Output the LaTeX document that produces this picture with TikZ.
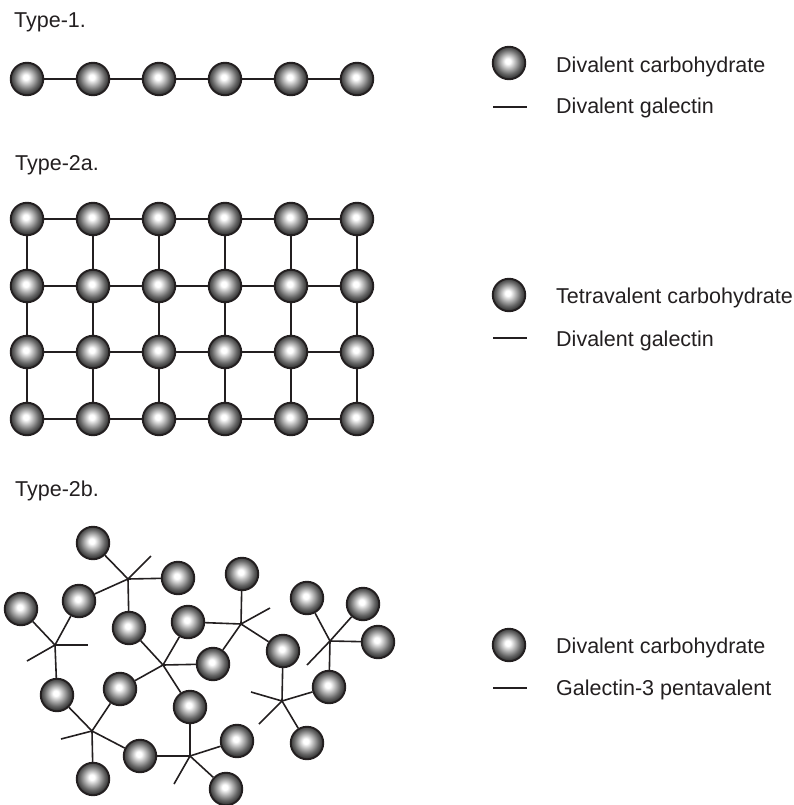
\documentclass[tikz,border=0pt]{standalone}
\usepackage{fontspec}
\setmainfont{Liberation Sans}
\definecolor{ink}{HTML}{231F20}
\pgfdeclareradialshading{sph}{\pgfpoint{-2bp}{3bp}}{%
  color(0bp)=(white); color(4bp)=(white); color(12bp)=(black!32);
  color(19bp)=(black!60); color(25bp)=(black!80); color(50bp)=(black!80)}
\tikzset{
  ballnode/.style={circle, minimum size=32.5pt, inner sep=0pt, draw=ink, line width=1.9pt, shading=sph},
  link/.style={draw=ink, line width=1.6pt},
  lab/.style={anchor=base west, inner sep=0pt, text=ink, font=\fontsize{21.5}{24}\selectfont}
}
\begin{document}
\begin{tikzpicture}[x=1pt,y=-1pt]
\useasboundingbox (0,0) rectangle (793,805);
% titles
\node[lab] (t1) at (14,28) {Type-1.};
\node[lab] (t2) at (15,171) {Type-2a.};
\node[lab] (t3) at (15,496) {Type-2b.};
% Type-1 chain
\foreach \i/\x in {1/27,2/93,3/159,4/225,5/291,6/357}
  \node[ballnode] (c\i) at (\x,79) {};
\foreach \i in {1,...,5}{
  \pgfmathtruncatemacro{\j}{\i+1}
  \draw[link] (c\i) -- (c\j);
}
% Type-2a grid
\foreach \r/\y in {1/219,2/286,3/352,4/419}
  \foreach \i/\x in {1/27,2/93,3/159,4/225,5/291,6/357}
    \node[ballnode] (g\r x\i) at (\x,\y) {};
\foreach \r in {1,...,4}{
  \foreach \i in {1,...,5}{
    \pgfmathtruncatemacro{\j}{\i+1}
    \draw[link] (g\r x\i) -- (g\r x\j);
  }
}
\foreach \r in {1,...,3}{
  \pgfmathtruncatemacro{\s}{\r+1}
  \foreach \i in {1,...,6}{
    \draw[link] (g\r x\i) -- (g\s x\i);
  }
}
% Type-2b network
\foreach \n/\x/\y in {1/93/543,2/178/578,3/79/601,4/21/609,5/129/628,6/188/622,7/242/574,
  8/307/598,9/363/604,10/378/642,11/283/651,12/213/664,13/120/689,14/57/695,15/190/707,
  16/329/687,17/237/741,18/307/743,19/140/756,20/93/779,21/226/789}
  \node[ballnode] (b\n) at (\x,\y) {};
\coordinate (h1) at (128,579);
\coordinate (h2) at (55,645);
\coordinate (h3) at (163,665);
\coordinate (h4) at (241,624);
\coordinate (h5) at (330,641);
\coordinate (h6) at (282,701);
\coordinate (h7) at (92,731);
\coordinate (h8) at (190,756);
\coordinate (f1) at (151,556);
\coordinate (f2a) at (88,645);
\coordinate (f2b) at (27,661);
\coordinate (f4) at (270,608);
\coordinate (f5) at (307,665);
\coordinate (f6a) at (251,692);
\coordinate (f6b) at (259,724);
\coordinate (f7) at (61,739);
\coordinate (f8) at (174,784);
\foreach \h/\b in {h1/b1,h1/b2,h1/b3,h1/b5,h1/f1,
  h2/b4,h2/b3,h2/b14,h2/f2a,h2/f2b,
  h3/b5,h3/b6,h3/b12,h3/b15,h3/b13,
  h4/b7,h4/b6,h4/b11,h4/b12,h4/f4,
  h5/b8,h5/b9,h5/b10,h5/b16,h5/f5,
  h6/b11,h6/b16,h6/b18,h6/f6a,h6/f6b,
  h7/b14,h7/b13,h7/b20,h7/b19,h7/f7,
  h8/b15,h8/b19,h8/b17,h8/b21,h8/f8}
  \draw[link] (\h) -- (\b);
% Legends
\node[ballnode] (k1) at (509,63) {};
\node[lab] (k1t) at (556,73) {Divalent carbohydrate};
\coordinate (k2a) at (493,107); \coordinate (k2b) at (527,107);
\draw[link] (k2a) -- (k2b);
\node[lab] (k2t) at (556,114) {Divalent galectin};
\node[ballnode] (k3) at (509,295) {};
\node[lab] (k3t) at (556,303) {Tetravalent carbohydrate};
\coordinate (k4a) at (493,338); \coordinate (k4b) at (527,338);
\draw[link] (k4a) -- (k4b);
\node[lab] (k4t) at (556,346) {Divalent galectin};
\node[ballnode] (k5) at (509,645) {};
\node[lab] (k5t) at (556,653) {Divalent carbohydrate};
\coordinate (k6a) at (493,688); \coordinate (k6b) at (527,688);
\draw[link] (k6a) -- (k6b);
\node[lab] (k6t) at (556,695) {Galectin-3 pentavalent};
\end{tikzpicture}
\end{document}
